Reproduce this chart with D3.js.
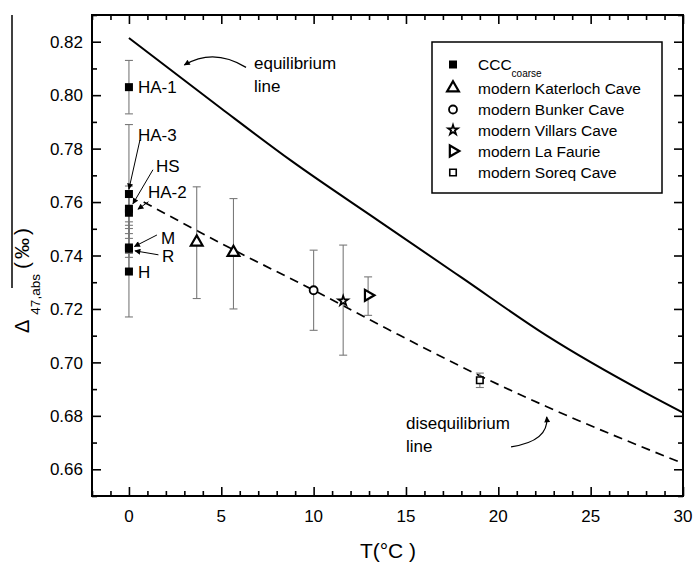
<!DOCTYPE html>
<html>
<head>
<meta charset="utf-8">
<script src="https://cdn.jsdelivr.net/npm/d3@7"></script>
<style>
  body { margin: 0; background: #fff; }
</style>
</head>
<body>
<div id="chart"></div>
<script>
// CCC coarse samples (all at 0 °C)
const cccNames = ["HA-1", "HA-3", "HS", "HA-2", "M", "R", "H"];
const cccT = [0, 0, 0, 0, 0, 0, 0];
const cccV = [0.803, 0.763, 0.7575, 0.756, 0.743, 0.7425, 0.734];
const cccHi = [0.813, 0.789, 0.766, 0.7642, 0.7513, 0.7501, 0.7526];
const cccLo = [0.793, 0.7408, 0.7482, 0.7464, 0.7393, 0.735, 0.717];

// modern cave calcites
const caveNames = ["Katerloch", "Katerloch", "Bunker", "Villars", "La Faurie", "Soreq"];
const caveT = [3.67, 5.66, 10.0, 11.6, 12.95, 19.0];
const caveV = [0.745, 0.7411, 0.727, 0.723, 0.7251, 0.6933];
const caveHi = [0.7657, 0.7613, 0.742, 0.7439, 0.732, 0.696];
const caveLo = [0.7239, 0.72, 0.712, 0.7027, 0.7176, 0.6906];

// equilibrium / disequilibrium lines
const eqT = [0, 5, 8.8, 13.6, 18, 22.6, 28, 30];
const eqV = [0.8214, 0.795, 0.7754, 0.7526, 0.7318, 0.7101, 0.6885, 0.6812];
const diseqT = [0.8, 5.7, 10, 14, 19, 22.6, 30];
const diseqV = [0.76, 0.742, 0.727, 0.7125, 0.695, 0.6835, 0.6622];

// axes
const xMajor = [0, 5, 10, 15, 20, 25, 30];
const yMajor = [0.66, 0.68, 0.70, 0.72, 0.74, 0.76, 0.78, 0.80, 0.82];

// legend
const legendKeys = ["CCC", "Katerloch", "Bunker", "Villars", "La Faurie", "Soreq"];
const legendLabels = ["CCC", "modern Katerloch Cave", "modern Bunker Cave",
  "modern Villars Cave", "modern La Faurie", "modern Soreq Cave"];

const width = 694, height = 564;
const pL = 92, pR = 683, pT = 15, pB = 496;
const font = "Arial, 'Liberation Sans', sans-serif";

const svg = d3.select("#chart").append("svg")
  .attr("width", width).attr("height", height)
  .style("font-family", font);

const x = d3.scaleLinear().domain([-2, 30]).range([pL, pR]);
const y = d3.scaleLinear().domain([0.65, 0.83]).range([pB, pT]);

// arrow head marker
svg.append("defs").append("marker")
  .attr("id", "ah")
  .attr("viewBox", "0 0 10 10")
  .attr("refX", 9).attr("refY", 5)
  .attr("markerWidth", 8).attr("markerHeight", 6)
  .attr("markerUnits", "userSpaceOnUse")
  .attr("orient", "auto")
  .append("path").attr("d", "M0,0 L10,5 L0,10 z").attr("fill", "#000");

// ticks (inward on all sides)
const xMinor = d3.range(-2, 31, 1).filter(v => v % 5 !== 0);
const yMinor = d3.range(65, 84, 1).filter(v => v % 2 !== 0).map(v => v / 100);

function tickGroup(axis, tr) {
  const g = svg.append("g").attr("transform", tr).call(axis);
  g.select(".domain").remove();
  g.selectAll(".tick line").attr("stroke", "#000").attr("stroke-width", 1.6);
  return g;
}
tickGroup(d3.axisBottom(x).tickValues(xMajor).tickSize(-9).tickFormat(""), `translate(0,${pB})`);
tickGroup(d3.axisBottom(x).tickValues(xMinor).tickSize(-5).tickFormat(""), `translate(0,${pB})`);
tickGroup(d3.axisTop(x).tickValues(xMajor).tickSize(-9).tickFormat(""), `translate(0,${pT})`);
tickGroup(d3.axisTop(x).tickValues(xMinor).tickSize(-5).tickFormat(""), `translate(0,${pT})`);
tickGroup(d3.axisLeft(y).tickValues(yMajor).tickSize(-9).tickFormat(""), `translate(${pL},0)`);
tickGroup(d3.axisLeft(y).tickValues(yMinor).tickSize(-5).tickFormat(""), `translate(${pL},0)`);
tickGroup(d3.axisRight(y).tickValues(yMajor).tickSize(-9).tickFormat(""), `translate(${pR},0)`);
tickGroup(d3.axisRight(y).tickValues(yMinor).tickSize(-5).tickFormat(""), `translate(${pR},0)`);

// tick labels
svg.append("g").selectAll("text").data(xMajor).join("text")
  .attr("x", d => x(d)).attr("y", pB + 26)
  .attr("text-anchor", "middle").style("font-size", "17px")
  .text(d => d);
svg.append("g").selectAll("text").data(yMajor).join("text")
  .attr("x", pL - 9).attr("y", d => y(d)).attr("dy", "0.36em")
  .attr("text-anchor", "end").style("font-size", "17px")
  .text(d => d.toFixed(2));

// frame
svg.append("rect")
  .attr("x", pL).attr("y", pT)
  .attr("width", pR - pL).attr("height", pB - pT)
  .attr("fill", "none").attr("stroke", "#000").attr("stroke-width", 2);

// axis titles
svg.append("text")
  .attr("x", 388).attr("y", 558)
  .attr("text-anchor", "middle").style("font-size", "21px")
  .text("T(°C )");

const yl = svg.append("text")
  .attr("transform", "translate(29,333) rotate(-90)")
  .style("font-size", "20px");
yl.append("tspan").text("Δ");
yl.append("tspan").attr("dx", 5).attr("dy", 11).style("font-size", "13.5px").text("47,abs");
yl.append("tspan").attr("dx", 5).attr("dy", -11).style("font-size", "21px")
  .style("letter-spacing", "3px").text("(‰)");
// overline of the label (as drawn in the figure)
svg.append("line")
  .attr("x1", 12).attr("x2", 12).attr("y1", pT).attr("y2", 288)
  .attr("stroke", "#000").attr("stroke-width", 1.5);

// lines
const lineGen = d3.line().x(d => x(d[0])).y(d => y(d[1])).curve(d3.curveMonotoneX);
svg.append("path")
  .datum(eqT.map((t, i) => [t, eqV[i]]))
  .attr("d", lineGen)
  .attr("fill", "none").attr("stroke", "#000").attr("stroke-width", 2);
svg.append("path")
  .datum(diseqT.map((t, i) => [t, diseqV[i]]))
  .attr("d", lineGen)
  .attr("fill", "none").attr("stroke", "#000").attr("stroke-width", 1.7)
  .attr("stroke-dasharray", "9,6");

// error bars
function errorBars(ts, hi, lo) {
  const g = svg.append("g").attr("stroke", "#7a7a7a").attr("stroke-width", 1.1);
  ts.forEach((t, i) => {
    g.append("line").attr("x1", x(t)).attr("x2", x(t)).attr("y1", y(hi[i])).attr("y2", y(lo[i]));
    [hi[i], lo[i]].forEach(v => {
      g.append("line").attr("x1", x(t) - 4).attr("x2", x(t) + 4).attr("y1", y(v)).attr("y2", y(v));
    });
  });
}
errorBars(cccT, cccHi, cccLo);
errorBars(caveT, caveHi, caveLo);

// symbols
const symbolFor = {
  "CCC": { type: d3.symbolSquare, size: 64, fill: "#000", sw: 0, rot: 0 },
  "Katerloch": { type: d3.symbolTriangle, size: 60, fill: "#fff", sw: 2.2, rot: 0 },
  "Bunker": { type: d3.symbolCircle, size: 50, fill: "#fff", sw: 1.8, rot: 0 },
  "Villars": { type: d3.symbolStar, size: 30, fill: "#fff", sw: 1.7, rot: 0 },
  "La Faurie": { type: d3.symbolTriangle, size: 52, fill: "#fff", sw: 2.2, rot: 90 },
  "Soreq": { type: d3.symbolSquare, size: 42, fill: "#fff", sw: 1.6, rot: 0 }
};
function drawSymbol(g, key, px, py) {
  const s = symbolFor[key];
  g.append("path")
    .attr("d", d3.symbol().type(s.type).size(s.size)())
    .attr("transform", `translate(${px},${py}) rotate(${s.rot})`)
    .attr("fill", s.fill).attr("stroke", "#000").attr("stroke-width", s.sw);
}
const marks = svg.append("g");
caveT.forEach((t, i) => drawSymbol(marks, caveNames[i], x(t), y(caveV[i])));
cccT.forEach((t, i) => drawSymbol(marks, "CCC", x(t), y(cccV[i])));

// sample labels: text offset and arrow (tail, head) offsets in px from the point
const labelLayout = {
  "HA-1": { dx: 9, dy: 0 },
  "H": { dx: 9, dy: 0 },
  "HA-3": { dx: 9, dy: -59, arrow: [11, -54, 0, -5] },
  "HS": { dx: 27, dy: -43, arrow: [24, -39, 4, -5] },
  "HA-2": { dx: 19, dy: -21, arrow: [19.5, -11, 9, -3.5] },
  "M": { dx: 32, dy: -10, arrow: [28, -12.5, 5.5, -1] },
  "R": { dx: 33, dy: 7, arrow: [29.5, 6, 6, 2] }
};
const lab = svg.append("g");
cccNames.forEach((n, i) => {
  const px = x(cccT[i]), py = y(cccV[i]);
  const L = labelLayout[n];
  lab.append("text")
    .attr("x", px + L.dx).attr("y", py + L.dy).attr("dy", "0.36em")
    .style("font-size", "17px").text(n);
  if (L.arrow) {
    lab.append("line")
      .attr("x1", px + L.arrow[0]).attr("y1", py + L.arrow[1])
      .attr("x2", px + L.arrow[2]).attr("y2", py + L.arrow[3])
      .attr("stroke", "#000").attr("stroke-width", 1)
      .attr("marker-end", "url(#ah)");
  }
});

// line annotations (data coordinates: text anchor, curve start, control, tip)
const notes = [
  { lines: ["equilibrium", "line"], tx: 6.77, ty: 0.8098, a: [[6.34, 0.8104], [4.6, 0.8178], [3.0, 0.8113]] },
  { lines: ["disequilibrium", "line"], tx: 15.0, ty: 0.6751, a: [[20.69, 0.6684], [22.75, 0.6705], [22.62, 0.6796]] }
];
notes.forEach(nt => {
  const t = svg.append("text").attr("x", x(nt.tx)).attr("y", y(nt.ty)).style("font-size", "17px");
  nt.lines.forEach((s, k) => t.append("tspan").attr("x", x(nt.tx)).attr("dy", k ? 23 : 0).text(s));
  const p = d3.path();
  p.moveTo(x(nt.a[0][0]), y(nt.a[0][1]));
  p.quadraticCurveTo(x(nt.a[1][0]), y(nt.a[1][1]), x(nt.a[2][0]), y(nt.a[2][1]));
  svg.append("path").attr("d", p.toString())
    .attr("fill", "none").attr("stroke", "#000").attr("stroke-width", 1.2)
    .attr("marker-end", "url(#ah)");
});

// legend
const lg = svg.append("g");
lg.append("rect")
  .attr("x", 432).attr("y", 42).attr("width", 230).attr("height", 151)
  .attr("fill", "#fff").attr("stroke", "#000").attr("stroke-width", 1.5);
const rowY = [64.5, 88, 109.5, 130, 151, 172.5];
legendKeys.forEach((k, i) => {
  drawSymbol(lg, k, 453, rowY[i]);
  const t = lg.append("text")
    .attr("x", 478).attr("y", i === 0 ? 69.5 : rowY[i] + 5.5)
    .style("font-size", "15.5px").text(legendLabels[i]);
  if (i === 0) {
    t.append("tspan").attr("dy", 7).style("font-size", "10px").text("coarse");
  }
});
</script>
</body>
</html>
